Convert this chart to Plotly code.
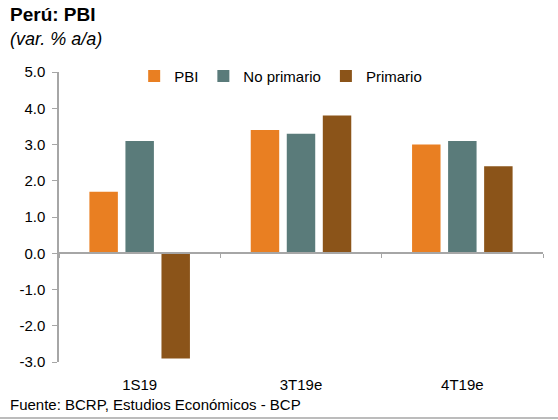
import plotly.graph_objects as go

periodos = ["1S19", "3T19e", "4T19e"]
pbi = [1.7, 3.4, 3.0]
no_primario = [3.1, 3.3, 3.1]
primario = [-2.9, 3.8, 2.4]
marcas_y = [-3, -2, -1, 0, 1, 2, 3, 4, 5]

series = [
    ("PBI", pbi, "#E97F22"),
    ("No primario", no_primario, "#5A7B7A"),
    ("Primario", primario, "#8B5419"),
]

fig = go.Figure()
for nombre, valores, color in series:
    fig.add_trace(go.Bar(x=periodos, y=valores, name=nombre, marker_color=color,
                         marker_line_width=0))

# eje auxiliar para la linea del cero con marcas entre categorias
fig.add_trace(go.Scatter(x=periodos, y=[None] * len(periodos), xaxis="x2",
                         showlegend=False, hoverinfo="skip", mode="markers"))

gris = "#A6A6A6"
fuente = "Liberation Sans, Arial, sans-serif"

fig.update_layout(
    width=558, height=420,
    margin=dict(l=59, r=15, t=72, b=58),
    paper_bgcolor="white", plot_bgcolor="white",
    font=dict(family=fuente, size=15, color="black"),
    barmode="group", bargap=0.33, bargroupgap=0.21,
    showlegend=True,
    legend=dict(orientation="h", x=0.458, xanchor="center", y=0.985, yanchor="middle",
                font=dict(size=15), bgcolor="rgba(0,0,0,0)", itemwidth=30),
    xaxis=dict(type="category", range=[-0.5, 2.5], showline=False, ticks="outside",
               ticklen=9, tickcolor="rgba(0,0,0,0)", showgrid=False, zeroline=False,
               tickfont=dict(size=15)),
    xaxis2=dict(type="category", overlaying="x", anchor="free", position=0.375,
                range=[-0.5, 2.5], categoryarray=periodos, categoryorder="array",
                showline=True, linecolor=gris, linewidth=1.5, ticks="outside",
                tickson="boundaries", ticklen=4, tickcolor=gris, showticklabels=False,
                showgrid=False, zeroline=False),
    yaxis=dict(range=[-3, 5], tickvals=marcas_y, ticktext=[f"{v:.1f}" for v in marcas_y],
               showline=True, linecolor=gris, linewidth=1.5, ticks="outside", ticklen=5,
               tickcolor=gris, showgrid=False, zeroline=False, tickfont=dict(size=15),
               ticklabelstandoff=4),
    annotations=[
        dict(text="<b>Perú: PBI</b>", xref="paper", yref="paper", x=-0.106, y=1.197,
             xanchor="left", yanchor="middle", showarrow=False, font=dict(size=19)),
        dict(text="<i>(var. % a/a)</i>", xref="paper", yref="paper", x=-0.106, y=1.114,
             xanchor="left", yanchor="middle", showarrow=False, font=dict(size=18)),
        dict(text="Fuente: BCRP, Estudios Económicos - BCP", xref="paper", yref="paper",
             x=-0.106, y=-0.148, xanchor="left", yanchor="middle", showarrow=False,
             font=dict(size=15)),
    ],
    shapes=[
        dict(type="line", xref="paper", yref="paper", x0=-0.122, x1=1.031,
             y0=-0.193, y1=-0.193, line=dict(color=gris, width=1.5)),
    ],
)

fig.write_html("out.html", config={"displayModeBar": False},
               post_script="document.body.style.margin='0';")
